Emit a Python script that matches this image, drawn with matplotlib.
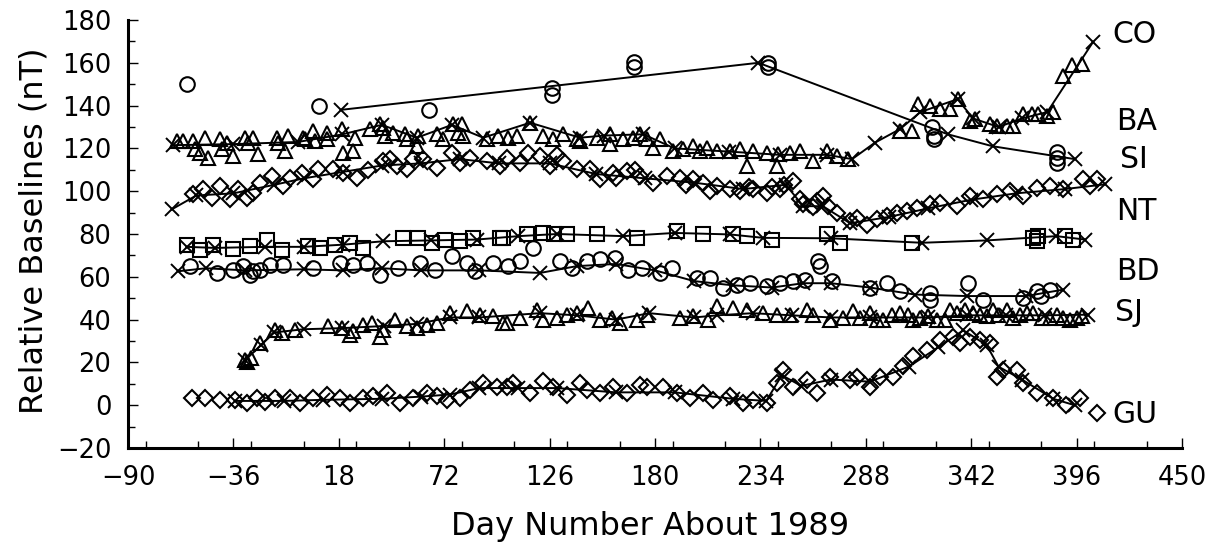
import matplotlib
matplotlib.use("Agg")
import matplotlib.pyplot as plt
from matplotlib.ticker import MultipleLocator

plt.rcParams['font.family'] = ['DejaVu Sans']

# ---------------- data (day, baseline nT) ----------------
CO_points = [(-60, 150), (8, 140), (64, 138), (127, 145), (127, 148), (169, 158), (169, 160.5),
             (238, 158), (238, 160), (322, 130), (323, 126), (323, 124.5), (386, 118.5),
             (386, 115.5), (386, 113)]
CO_line = [(19, 138), (233, 160), (330, 126.6), (353, 121), (395, 115)]

BA_points = [(-65, 123.5), (-61.6, 123.5), (-56.5, 123.5), (-55.7, 119.6), (-53.1, 118), (-50.6, 125),
             (-48.9, 115.7), (-42.9, 124.3), (-42, 119.6), (-39.4, 122.7), (-36, 116.5), (-30.1, 125),
             (-28.4, 122.7), (-25.8, 125), (-23.2, 117.2), (-13.8, 125), (-13, 122.7), (-9.6, 118.8),
             (-7.9, 125.8), (-0.2, 125), (0.7, 124.3), (4.9, 128.2), (5.8, 123.5), (11.8, 127.4),
             (11.8, 124.3), (19.5, 129), (20.3, 118), (25.4, 118.8), (26.3, 125), (34, 129),
             (39.1, 131.3), (40.8, 129.7), (41.7, 125.8), (45.9, 127.4), (51.9, 126.6), (52.8, 124.3),
             (57.9, 121.1), (58.7, 125.8), (68.1, 126.6), (71.5, 124.3), (76.7, 131.3), (79.2, 127.4),
             (81, 131.3), (81.8, 125.8), (93.8, 124.3), (99.7, 125.8), (104.8, 125), (109.1, 125.8),
             (115.9, 132.1), (122.8, 125.8), (127.9, 124.3), (133, 126.6), (139.8, 124.3),
             (141.6, 123.5), (150.1, 125), (156.9, 126.6), (156.9, 121.9), (163.7, 124.3),
             (168.9, 125), (172.3, 126.6), (175.7, 124.3), (179.1, 120.4), (182.5, 124.3),
             (189.4, 118.8), (194.5, 119.6), (199.6, 121.1), (203, 118.8), (206.5, 120.4),
             (211.6, 118.8), (218.4, 118.8), (223.5, 119.6), (226.9, 111.8), (230.4, 118.8),
             (237.2, 118), (242.3, 111.8), (243.2, 117.2), (249.1, 118), (254.3, 118.8),
             (261.1, 114.1), (267.9, 118.8), (273.1, 116.5), (279, 114.9), (305.5, 128.2),
             (311.5, 128.2), (314.9, 140.7), (320.9, 139.9), (326, 138.3), (331.1, 138.3),
             (335.4, 143), (341.4, 132.8), (343.9, 133.6), (351.6, 131.3), (355, 130.5),
             (360.1, 130.5), (363.5, 130.5), (368.7, 136), (372.9, 136), (376.4, 136),
             (380.6, 135.2), (384, 136.8), (389, 154), (393.6, 159), (398.7, 159.4)]
BA_line = [(-67, 121.5), (-36, 122), (-3, 123), (19.5, 126.5), (40, 131), (58, 125), (76, 131),
           (92, 125), (116, 132), (141.6, 125), (154, 126), (174, 126.6), (190, 120), (218, 118.5),
           (244, 117), (268, 117), (281, 115), (292.7, 122.7), (305.5, 129), (316, 137), (335, 143),
           (343, 134), (356, 130), (368, 134), (381, 137), (404.4, 169.7)]

SI_points = [(-56.5, 98.5), (-51.4, 100.8), (-47, 97), (-42.9, 102.4), (-37.7, 96.2), (-33.5, 100.8),
             (-29.2, 96.9), (-26, 99), (-22.4, 104), (-16.4, 107.1), (-10.4, 102.4), (-7, 106.3),
             (-1, 108.7), (4.9, 105.5), (7.5, 110.2), (15.2, 110.2), (20.3, 108.7), (27.2, 106.3),
             (33, 110), (40.8, 114.1), (44.2, 114.9), (47.7, 111.8), (52.8, 110.2), (56.2, 114.9),
             (61.3, 114.9), (68.1, 111), (75.8, 118), (80.1, 113.4), (85.2, 115.7), (93.8, 114.1),
             (100.6, 111.8), (104, 115.7), (110.8, 113.4), (115, 118), (121.1, 116.5), (126.2, 111.8),
             (130, 117), (133, 114.1), (139.9, 110.2), (146.7, 110.2), (151.8, 105.5), (158.6, 108.7),
             (160, 106), (165.5, 109.4), (170, 110), (172.3, 107.1), (179.1, 104), (186, 107.1),
             (192.8, 106.3), (196, 103), (199.6, 105.5), (204.7, 104), (208, 100), (211.6, 102.4),
             (218.4, 100.8), (223.5, 100), (228, 102), (230.3, 100.8), (237.2, 99.3), (240, 102),
             (244, 100.8), (246, 103), (250.8, 104.7), (254.3, 96.2), (256, 93.8), (261.1, 92.4),
             (262.8, 95.4), (266.2, 97.7), (268.8, 93), (273.1, 89.9), (279.9, 86), (283.3, 87.6),
             (288.4, 84.4), (293.6, 86.8), (298.7, 88.4), (303.8, 89.9), (308.9, 90.7), (314, 92.3),
             (320.9, 93.8), (326, 94.6), (334.5, 93), (341.4, 97.7), (348.2, 96.2), (355, 98.5),
             (361.8, 100), (368.7, 97.7), (375.5, 101.6), (382.3, 102.4), (389.2, 100.8),
             (399.4, 105.5), (402.8, 102.4), (406.2, 105.5)]
SI_line = [(-67.6, 91.5), (-55, 98), (-36, 99), (-15, 103), (0, 106), (20, 109), (40, 112), (60, 113),
           (80, 115), (100, 113), (126, 113), (150, 108), (175, 106), (200, 104), (225, 101),
           (247, 103), (256, 93), (266, 93), (280, 85), (300, 88), (320, 92), (342, 96), (365, 99),
           (390, 101), (410.5, 103.2)]

NT_points = [(-59.9, 75), (-53.1, 72.7), (-46.3, 75), (-36, 73), (-27.5, 74.3), (-18.9, 77.4),
             (-11.3, 72.7), (2.4, 74.3), (8.4, 73.5), (16, 75), (23.7, 75.9), (30.5, 73.5), (51, 78.2),
             (58.7, 78.2), (65.6, 75.9), (72.4, 77.4), (80.1, 76.6), (86.9, 78.2), (100.6, 78.2),
             (102.3, 78.2), (114.2, 79.8), (122.8, 80.6), (128, 80), (134.7, 79.8), (150.1, 79.8),
             (170.6, 78.2), (191.1, 81.3), (204.7, 79.8), (220.1, 79.8), (226.9, 79), (239.8, 77.4),
             (267.9, 79.8), (274.8, 75.9), (311.5, 75.9), (373.8, 78.2), (375.5, 76.6), (376, 79),
             (390, 79), (394.3, 77.4)]
NT_line = [(-60, 74), (-45.4, 73.5), (-20, 74), (0, 74), (20, 75), (40.8, 76.6), (65, 77),
           (88.6, 77.4), (110, 79), (130, 80), (163.7, 79), (190, 80.5), (218.4, 79.8),
           (235.4, 78.2), (270, 78), (316.7, 75.9), (350, 77), (385.7, 79), (400.3, 77.4)]

BD_points = [(-58.2, 64.9), (-44.6, 61.8), (-36, 63), (-30.9, 64.9), (-27.5, 61), (-25.8, 62.6),
             (-22.4, 63.4), (-17.3, 65.7), (-10.4, 65.7), (4.9, 64.2), (18.6, 66.5), (25.4, 65.7),
             (32.3, 66.5), (39.1, 61), (48.5, 64.2), (59.6, 66.5), (67.3, 63.4), (75.8, 69.6),
             (83.5, 66.5), (87.8, 62.6), (97.1, 66.5), (104.8, 64.9), (110.8, 67.3), (117.6, 73.5),
             (131.3, 67.3), (137.3, 64.2), (145, 67.3), (151.8, 68.1), (159.5, 68.9), (166.3, 63.4),
             (173.2, 64.2), (182.5, 61.8), (188.5, 64.2), (201.3, 59.5), (208.2, 59.5), (215, 54.8),
             (221.8, 56.3), (228.7, 57.1), (237.2, 55.6), (244, 57.1), (250.8, 57.9), (256.8, 58.7),
             (263.6, 67.3), (264.5, 64.9), (270.5, 57.9), (290.1, 54.8), (298.7, 57.1), (305.5, 53.2),
             (320.9, 52.5), (320.9, 49.3), (340.5, 57.1), (348.2, 49.3), (368.7, 50.1), (375.5, 53.2),
             (378, 50.9), (382.3, 54)]
BD_line = [(-64.2, 62.6), (-50, 64), (-30, 63), (0, 63.5), (20, 63), (40, 64), (60, 63), (90, 63),
           (121.1, 61.8), (140, 65), (160, 66), (180, 63), (200, 58), (220, 56), (240, 55), (256, 57),
           (270, 57), (290, 55), (313.2, 51.7), (340, 51), (370, 51), (389.2, 54)]

SJ_points = [(-30.1, 21.2), (-29, 20), (-27, 22), (-22.4, 29), (-14.7, 35.3), (-11.3, 33.7),
             (-4.4, 35.3), (12.6, 36.8), (19.5, 36.1), (23.7, 33), (25.4, 34.5), (30.5, 37.6),
             (34.9, 38.4), (39.1, 32.1), (40.8, 35.3), (46.8, 40), (52.8, 36.8), (57.9, 36.1),
             (63, 37.6), (68.1, 38.4), (75, 43.1), (83.5, 43.8), (90.3, 42.3), (97.2, 41.5),
             (102.3, 38.4), (104, 38.4), (110.8, 40.8), (119.3, 44.6), (122.8, 40), (129.6, 40.8),
             (134.7, 42.3), (139.9, 43.1), (145.8, 45.4), (151.8, 40), (157.8, 40.8), (162.1, 38.4),
             (170.6, 40), (175.7, 42.3), (192.8, 40.8), (199.6, 41.5), (207.3, 40), (211.6, 46.2),
             (220.1, 45.4), (226.9, 44.6), (235.5, 43.1), (242.3, 42.3), (249.1, 42.3), (257.7, 44.6),
             (261.1, 42.3), (269.6, 40), (276.4, 40.8), (281.6, 43.8), (285, 40.8), (290.1, 43.1),
             (293.6, 40), (297, 40), (301.2, 42.3), (305.5, 43.1), (309.8, 42.3), (312.3, 40),
             (315.7, 40.8), (320, 41.5), (324.3, 40), (328.6, 40), (331.1, 44.6), (334.5, 43.1),
             (338.8, 44.6), (343.1, 43.1), (346.5, 42.3), (349.9, 41.5), (353.3, 44.6), (355.9, 42.3),
             (360.2, 44.6), (363.6, 40.8), (367, 42.3), (370.4, 43.1), (373.8, 43.1), (378.1, 40.8),
             (382.3, 40.8), (385.8, 42.3), (389.2, 40.8), (392.6, 40), (396, 40.8), (398.6, 41.5)]
SJ_line = [(-30, 21), (-22, 28), (-15, 34), (0, 35.5), (19.5, 36), (41, 37), (58, 38), (75, 41),
           (90, 41), (121, 43), (140, 42), (160, 40), (177, 43), (200, 41), (212, 42), (230, 43),
           (250, 42), (270, 41), (290, 41), (320, 41), (340, 42), (360, 42), (380, 42), (402, 42.3)]

GU_points = [(-57.4, 3.3), (-50.6, 3.3), (-42.9, 2.5), (-35.2, 2.5), (-29.2, 0.9), (-24.1, 3.3),
             (-19.8, 1.7), (-14.7, 3.3), (-7, 3.3), (-1.9, 0.9), (4.9, 3.3), (11.8, 4.8), (18.6, 3.3),
             (23.7, 0.9), (30.5, 3.3), (35.7, 4.1), (42.5, 5.6), (49.3, 0.9), (56.2, 3.3), (63, 5.6),
             (68.1, 4.1), (73.3, 2.5), (80.1, 3.3), (85.2, 7.2), (92, 10.3), (98.9, 8.7), (104, 8.7),
             (107.4, 10.3), (115.9, 5.6), (122.8, 11.1), (127.9, 8.7), (134.7, 4.8), (141.6, 10.3),
             (145, 7.2), (151.8, 5.6), (158.6, 8.7), (165.5, 5.6), (172.3, 9.5), (175.7, 8.7),
             (184.2, 8.7), (191.1, 5.6), (197.9, 3.3), (204.7, 5.6), (209.9, 2.5), (218.4, 4.1),
             (225.2, 0.9), (230.4, 2.5), (237.2, 0.9), (242.3, 10.3), (245.7, 16.5), (250.9, 8.7),
             (257.7, 11.9), (262.8, 5.6), (269.6, 13.4), (279.9, 11.9), (283.3, 13.4), (290.1, 8.7),
             (295.2, 13.4), (302.1, 13.4), (307.2, 18.1), (312.3, 22.8), (319.2, 25.9), (326, 30.6),
             (332.8, 32.1), (336.2, 29.1), (341.4, 32.1), (346.5, 30.6), (351.6, 29.1), (355, 13.4),
             (358.4, 16.5), (365.3, 16.5), (368.7, 10.3), (375.5, 5.6), (384, 3.3), (390.8, 0.3),
             (397.7, 3.3), (406.2, -3.7)]
GU_line = [(-35, 2), (-10, 2), (10, 2.5), (40, 3), (60, 4), (75, 5), (90, 8), (110, 8), (130, 8),
           (160, 6), (190, 6), (220, 3), (237, 2), (245, 14), (255, 9), (270, 12), (290, 11),
           (310, 18), (325, 27), (338, 35), (350, 28), (356, 18), (368, 12), (384, 3), (395, 0)]

station_labels = ["CO", "BA", "SI", "NT", "BD", "SJ", "GU"]
label_days = [414.5, 416.5, 418, 416.5, 416.5, 415.5, 414.5]
label_vals = [173.4, 132.7, 114.9, 90.5, 62.4, 43.2, -4.5]

x_ticks = [-90, -36, 18, 72, 126, 180, 234, 288, 342, 396, 450]
y_ticks = [-20, 0, 20, 40, 60, 80, 100, 120, 140, 160, 180]

# ---------------- figure ----------------
W, H = 1215, 543
fig = plt.figure(figsize=(W / 100, H / 100), dpi=100)
ax = fig.add_axes([128 / W, 1 - 448 / H, (1182 - 128) / W, (448 - 20) / H])

series = [
    (CO_points, CO_line, 'o', 10.5),
    (BA_points, BA_line, '^', 9.5),
    (SI_points, SI_line, 'D', 8.5),
    (NT_points, NT_line, 's', 10.5),
    (BD_points, BD_line, 'o', 10.5),
    (SJ_points, SJ_line, '^', 9.5),
    (GU_points, GU_line, 'D', 8.5),
]

for pts, line, mk, ms in series:
    lx = [p[0] for p in line]
    ly = [p[1] for p in line]
    ax.plot(lx, ly, color='black', lw=1.4, marker='x', ms=10, mew=1.4, zorder=3)
    px = [p[0] for p in pts]
    py = [p[1] for p in pts]
    ax.plot(px, py, ls='none', marker=mk, ms=ms, mfc='none', mec='black', mew=1.5, zorder=2)

for name, d, v in zip(station_labels, label_days, label_vals):
    ax.text(d, v, name, fontsize=21.5, ha='left', va='center', clip_on=False)

ax.set_xlim(-90, 450)
ax.set_ylim(-20, 180)
ax.set_xticks(x_ticks)
ax.set_yticks(y_ticks)
ax.xaxis.set_minor_locator(MultipleLocator(27))
ax.yaxis.set_minor_locator(MultipleLocator(10))
ax.set_xticklabels([str(t).replace('-', '\u2212') for t in x_ticks], fontsize=18.5)
ax.set_yticklabels([str(t).replace('-', '\u2212') for t in y_ticks], fontsize=18.5)

for s in ['top', 'right']:
    ax.spines[s].set_visible(False)
for s in ['left', 'bottom']:
    ax.spines[s].set_linewidth(2.2)

ax.tick_params(which='major', direction='in', length=7.5, width=1.0, pad=12)
ax.tick_params(which='minor', direction='in', length=5, width=1.0)

fig.text(650 / W, 8 / H, "Day Number About 1989", fontsize=23, ha='center', va='baseline')
fig.text(34 / W, 1 - 231 / H, "Relative Baselines (nT)", fontsize=23, ha='center', va='center',
         rotation=90)

fig.savefig("out.png", dpi=100)
